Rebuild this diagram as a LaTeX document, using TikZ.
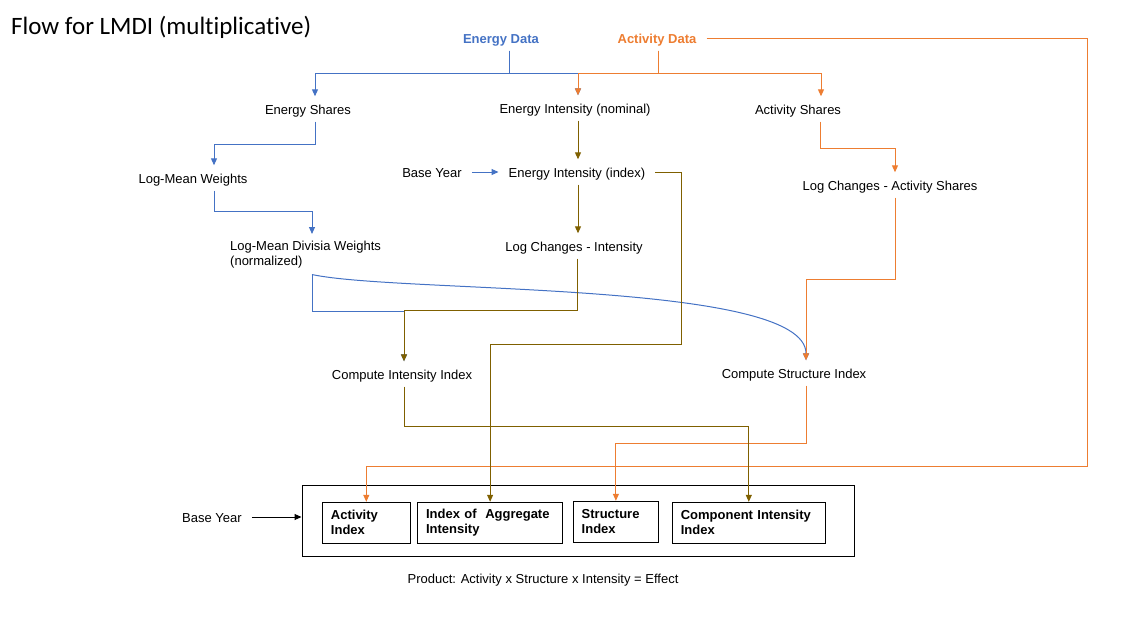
\documentclass[tikz,border=0pt]{standalone}
\usepackage{fontspec}
\setmainfont{Liberation Sans}
\newfontfamily\titlefont[Ligatures=NoCommon]{Carlito}
\usetikzlibrary{arrows.meta}
\definecolor{eblue}{HTML}{4472C4}
\definecolor{aorange}{HTML}{ED7D31}
\definecolor{igold}{HTML}{7F6000}
\begin{document}
\begin{tikzpicture}[
        x=1pt, y=-1pt, % one unit per pixel, y grows downwards
        every node/.style={font=\fontsize{13}{15}\selectfont},
        lbl/.style={inner xsep=10pt, inner ysep=6.5pt, text height=11.5pt, text depth=0.5pt}, % gap to the connectors
        idxbox/.style={draw, line width=1pt, font=\fontsize{13}{15}\selectfont\bfseries, align=left, inner xsep=8.5pt, minimum height=41pt},
        link/.style={line width=1pt, -{Triangle[length=7pt,width=6pt]}},
        elink/.style={link, draw=eblue},
        alink/.style={link, draw=aorange},
        ilink/.style={link, draw=igold}
    ]
    \useasboundingbox (0,0) rectangle (1135,619);

    \node[anchor=west, inner sep=0pt, font=\titlefont\fontsize{25}{29}\selectfont] (title) at (11,27) {Flow for LMDI (multiplicative)};

    % sources
    \node[lbl, text=eblue, font=\fontsize{13}{15}\selectfont\bfseries] (edata) at (501,38) {Energy Data};
    \node[lbl, text=aorange, font=\fontsize{13}{15}\selectfont\bfseries] (adata) at (657,38) {Activity Data};

    % steps
    \node[lbl] (eshare) at (308,109) {Energy Shares};
    \node[lbl] (einom) at (575,108) {Energy Intensity (nominal)};
    \node[lbl] (ashare) at (798,109) {Activity Shares};
    \node[lbl] (lmw) at (193,178) {Log-Mean Weights};
    \node[lbl] (byear) at (432,172) {Base Year};
    \node[lbl] (eiidx) at (577,172) {Energy Intensity (index)};
    \node[lbl] (lcas) at (890,185) {Log Changes - Activity Shares};
    \node[inner xsep=10pt, inner ysep=6.5pt, align=left, anchor=north west] (lmdw) at (220,234) {Log-Mean Divisia Weights\\(normalized)};
    \node[lbl] (lci) at (574,246) {Log Changes - Intensity};
    \node[lbl] (cii) at (402,374) {Compute Intensity Index};
    \node[lbl] (csi) at (794,373) {Compute Structure Index};

    % results
    \node[draw, line width=1pt, minimum width=552pt, minimum height=71pt] (outer) at (578,520.8) {};
    \node[idxbox, text width=70.7pt] (aidx) at (366.3,522.8) {Activity\\Index};
    \node[idxbox, text width=128.1pt] (iagg) at (490.1,522.8) {Index of\ \ Aggregate\\Intensity};
    \node[idxbox, text width=68.4pt] (sidx) at (615.9,521.8) {Structure\\Index};
    \node[idxbox, text width=135.9pt] (cidx) at (748.8,522.8) {Component Intensity\\Index};
    \node[lbl] (byear2) at (212,517) {Base Year};
    \node[lbl] (product) at (543,578) {Product: Activity x Structure x Intensity = Effect};

    \coordinate (rcorner) at (1087,466);
    \coordinate (ikink) at (681,344);

    % energy branch
    \draw[elink] ([xshift=8pt]edata.south) -- ++(0,23) -| ([xshift=7pt]eshare.north);
    \draw[elink] ([xshift=8pt]edata.south) -- ++(0,23) -| ([xshift=3pt]einom.north);
    \draw[elink] ([xshift=7pt]eshare.south) -- ++(0,23) -| ([xshift=21pt]lmw.north);
    \draw[elink] ([xshift=21pt]lmw.south) -- ++(0,21) -| ([xshift=92pt]lmdw.north west);
    \draw[elink] ([xshift=92pt]lmdw.south west) -- ++(0,37) -| ([xshift=2pt]cii.north);
    \draw[elink] ([xshift=92pt]lmdw.south west) .. controls +(88,19) and +(0,-80) .. ([xshift=12pt]csi.north);
    \draw[elink] (byear.east) -- (eiidx.west);

    % activity branch
    \draw[alink] ([xshift=1pt]adata.south) -- ++(0,23) -| ([xshift=3pt]einom.north);
    \draw[alink] ([xshift=1pt]adata.south) -- ++(0,23) -| ([xshift=23pt]ashare.north);
    \draw[alink] ([xshift=22pt]ashare.south) -- ++(0,27) -| ([xshift=5pt]lcas.north);
    \draw[alink] ([xshift=5pt]lcas.south) -- ++(0,82) -| ([xshift=12pt]csi.north);
    \draw[alink] (adata.east) -| (rcorner) -| (aidx.north);
    \draw[alink] ([xshift=12pt]csi.south) -- ++(0,58) -| (sidx.north);

    % intensity branch
    \draw[ilink] ([xshift=3pt]einom.south) -- ([xshift=1pt]eiidx.north);
    \draw[ilink] ([xshift=1pt]eiidx.south) -- ([xshift=4pt]lci.north);
    \draw[ilink] (eiidx.east) -| (ikink) -| (iagg.north);
    \draw[ilink] ([xshift=3pt]lci.south) -- ++(0,52) -| ([xshift=2pt]cii.north);
    \draw[ilink] ([xshift=2pt]cii.south) -- ++(0,40) -| (cidx.north);

    \draw[link] (byear2.east) -- (byear2.east -| outer.west);
\end{tikzpicture}
\end{document}
